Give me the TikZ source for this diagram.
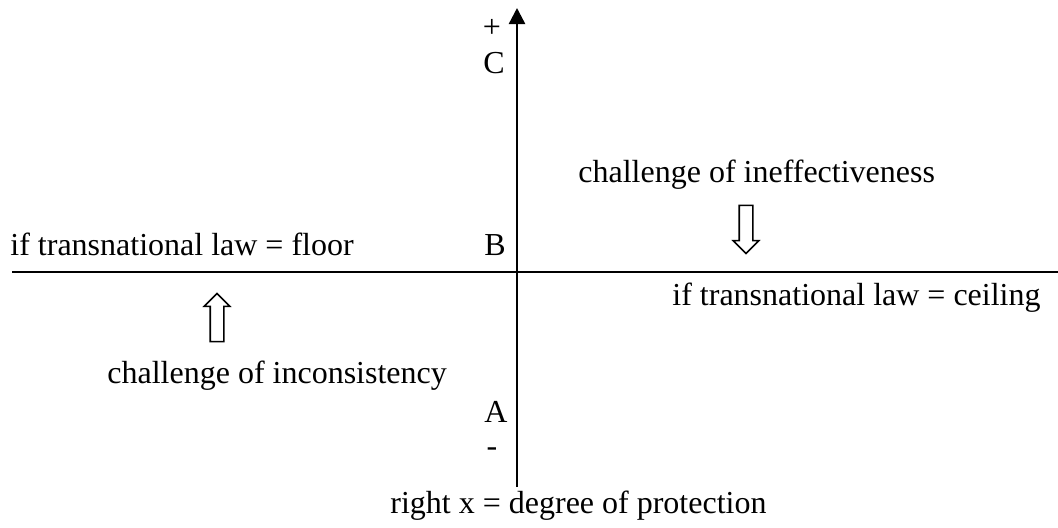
\documentclass[tikz,border=0pt]{standalone}
\usepackage{fontspec}
\setmainfont{Liberation Serif}
\usetikzlibrary{arrows.meta, shapes.arrows, positioning}

\begin{document}
\begin{tikzpicture}[x=0.5pt, y=0.5pt,
  lbl/.style={anchor=base west, inner sep=0pt, font=\fontsize{16}{19}\selectfont},
  hollow/.style={draw, single arrow, minimum height=24pt, inner sep=3pt, single arrow head extend=3pt, line width=0.8pt},
  axis/.style={line width=1.2pt}
]
  \useasboundingbox (0,0) rectangle (1058,527);

  % axes
  \coordinate (bottom) at (517,40);
  \coordinate (top) at (517,519);
  \coordinate (left) at (12,255);
  \coordinate (right) at (1058,255);
  \draw [axis, -{Triangle[length=8pt, width=8pt]}] (bottom) -- (top);
  \draw [axis] (left) -- (right);

  % marks on the axis
  \node (plus) [lbl, anchor=center] at (492,499) {+};
  \node (C) [lbl] at (483,454) {C};
  \node (B) [lbl] at (484,272) {B};
  \node (A) [lbl] at (484,105) {A};
  \node (minus) [lbl, anchor=center] at (492,75) {-};

  % labels
  \node (floor) [lbl] at (10,272) {if transnational law = floor};
  \node (ceiling) [lbl] at (672,222) {if transnational law = ceiling};
  \node (ineff) [lbl] at (578,345) {challenge of ineffectiveness};
  \node (incons) [lbl] at (107,144) {challenge of inconsistency};
  \node (protect) [lbl] at (390,14) {right x = degree of protection};

  % hollow arrows
  \node (down) [hollow, rotate=-90] at (746,301) {};
  \node (up) [hollow, rotate=90] at (217,206) {};
\end{tikzpicture}
\end{document}
